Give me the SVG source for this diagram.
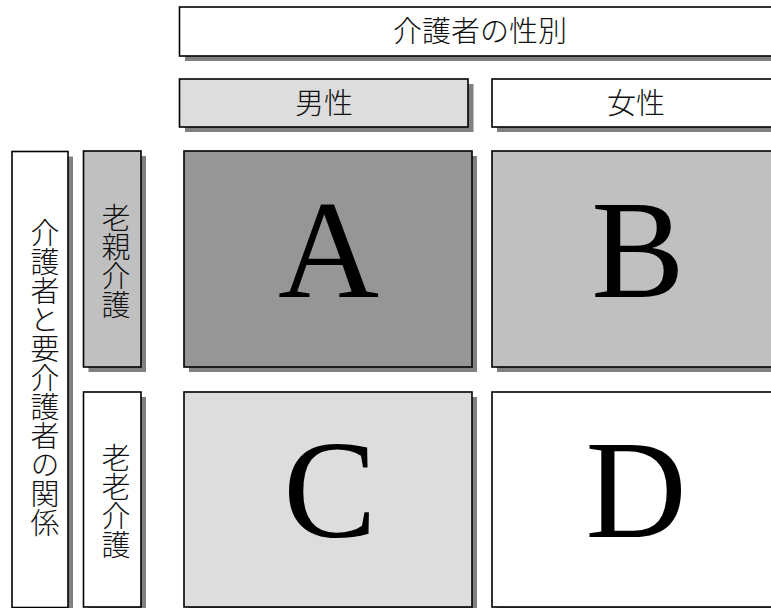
<svg xmlns="http://www.w3.org/2000/svg" width="771" height="608" viewBox="0 0 771 608">
<style>
.sh{fill:#808080;}
.bx{stroke:#000;stroke-width:1.6;}
.jp{font-family:"Noto Sans CJK JP","Noto Sans CJK SC",sans-serif;font-size:29px;font-weight:300;fill:#111;text-anchor:middle;}
.v{writing-mode:vertical-rl;dominant-baseline:central;}
.lt{font-family:"Liberation Serif","Times New Roman",serif;font-size:140px;fill:#000;text-anchor:middle;}
</style>
<rect width="771" height="608" fill="#fff"/>
<g id="connectors"></g>
<g id="gender-header">
<rect class="sh" x="185" y="12" width="600.5" height="49"/>
<rect class="bx" x="179.5" y="7" width="600.5" height="49" fill="#fff"/>
<text class="jp" x="480" y="42">介護者の性別</text>
</g>
<g id="male">
<rect class="sh" x="185" y="84" width="288.5" height="48"/>
<rect class="bx" x="179.5" y="79" width="288.5" height="48" fill="#ddd"/>
<text class="jp" x="324" y="113.5">男性</text>
</g>
<g id="female">
<rect class="sh" x="497" y="84" width="288" height="48"/>
<rect class="bx" x="492" y="79" width="288" height="48" fill="#fff"/>
<text class="jp" x="636" y="113.5">女性</text>
</g>
<g id="relation">
<rect class="sh" x="17" y="156.5" width="56" height="460"/>
<rect class="bx" x="12" y="151.5" width="56" height="456" fill="#fff"/>
<text class="jp v" x="45" y="378">介護者と要介護者の関係</text>
</g>
<g id="parent-care">
<rect class="sh" x="88.5" y="156" width="57.5" height="216"/>
<rect class="bx" x="83.5" y="151" width="57.5" height="216" fill="#c0c0c0"/>
<text class="jp v" x="116" y="261">老親介護</text>
</g>
<g id="elderly-care">
<rect class="sh" x="88.5" y="397" width="57.5" height="220"/>
<rect class="bx" x="83.5" y="392" width="57.5" height="215" fill="#fff"/>
<text class="jp v" x="116" y="501">老老介護</text>
</g>
<g id="A">
<rect class="sh" x="189" y="156" width="288" height="216"/>
<rect class="bx" x="184" y="151" width="288" height="216" fill="#969696"/>
<text class="lt" x="328.5" y="296.5">A</text>
</g>
<g id="B">
<rect class="sh" x="497" y="156" width="288" height="216"/>
<rect class="bx" x="492" y="151" width="288" height="216" fill="#c0c0c0"/>
<text class="lt" x="638" y="296.5">B</text>
</g>
<g id="C">
<rect class="sh" x="189" y="397" width="288" height="220"/>
<rect class="bx" x="184" y="392" width="288" height="215" fill="#ddd"/>
<text class="lt" x="330" y="536.5">C</text>
</g>
<g id="D">
<rect class="sh" x="497" y="397" width="288" height="220"/>
<rect class="bx" x="492" y="392" width="288" height="215" fill="#fff"/>
<text class="lt" x="636" y="536.5">D</text>
</g>
</svg>
